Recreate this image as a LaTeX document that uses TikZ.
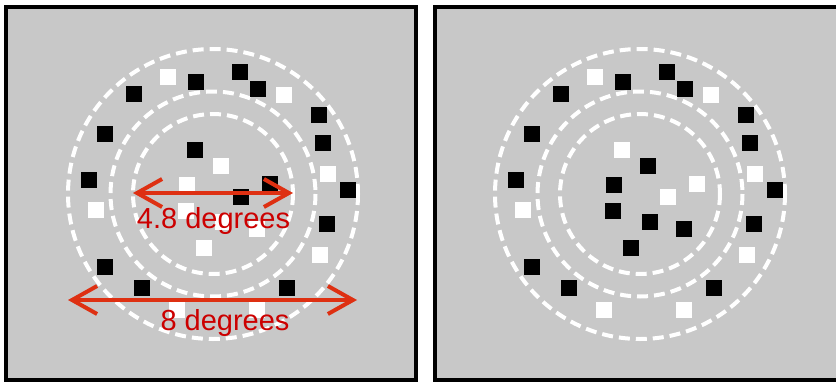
\documentclass[tikz,border=0pt]{standalone}
\usepackage{fontspec}
\setmainfont{Liberation Sans}
\usepackage{tikz}
\usetikzlibrary{arrows.meta}
\definecolor{panelgray}{RGB}{200,200,200}
\definecolor{arrowred}{RGB}{222,48,18}
\definecolor{labelred}{RGB}{204,0,0}

\begin{document}
\begin{tikzpicture}[x=1pt,y=-1pt,
		ring/.style={white,line width=4pt,dash pattern=on 11pt off 6pt},
		span/.style={arrowred,line width=4pt,{Straight Barb[length=25pt,width=28pt]}-{Straight Barb[length=25pt,width=28pt]}},
		deglabel/.style={labelred,font=\fontsize{29}{34}\selectfont,anchor=base,inner sep=0pt}]
		\clip (0,0) rectangle (836,383);
		\fill[white] (0,0) rectangle (836,383);
		\draw[fill=panelgray,line width=4pt] (5.5,6.5) rectangle (416,379.5);
		\draw[fill=panelgray,line width=4pt] (434.5,6.5) rectangle (845,379.5);
		% same outer ring in both panels, centre swapped
		\foreach \px/\cola/\colb in {0/black/white,427/white/black}{
			\begin{scope}[xshift=\px]
				\foreach \r in {145,102.5,80}
					\draw[ring] (213,194) circle[radius=\r];
				\foreach \sx/\sy in {168/77,284/95,328/174,96/210,320/255,177/310,257/310}
					\fill[white] (\sx-8,\sy-8) rectangle +(16,16);
				\foreach \sx/\sy in {134/94,196/82,240/72,258/89,319/115,323/143,105/134,89/180,348/190,327/224,105/267,142/288,287/288}
					\fill[black] (\sx-8,\sy-8) rectangle +(16,16);
				\foreach \sx/\sy in {195/150,270/184,241/197}
					\fill[\cola] (\sx-8,\sy-8) rectangle +(16,16);
				\foreach \sx/\sy in {221/166,187/185,186/211,223/222,257/229,204/248}
					\fill[\colb] (\sx-8,\sy-8) rectangle +(16,16);
			\end{scope}
		}
		\coordinate (innerL) at (133,193);
		\coordinate (innerR) at (293,193);
		\coordinate (outerL) at (68,300);
		\coordinate (outerR) at (357,300);
		\draw[span] (innerL) -- (innerR);
		\draw[span] (outerL) -- (outerR);
		\node[deglabel] (innerlabel) at (213.5,228) {4.8 degrees};
		\node[deglabel] (outerlabel) at (225,330) {8 degrees};
	\end{tikzpicture}
\end{document}
